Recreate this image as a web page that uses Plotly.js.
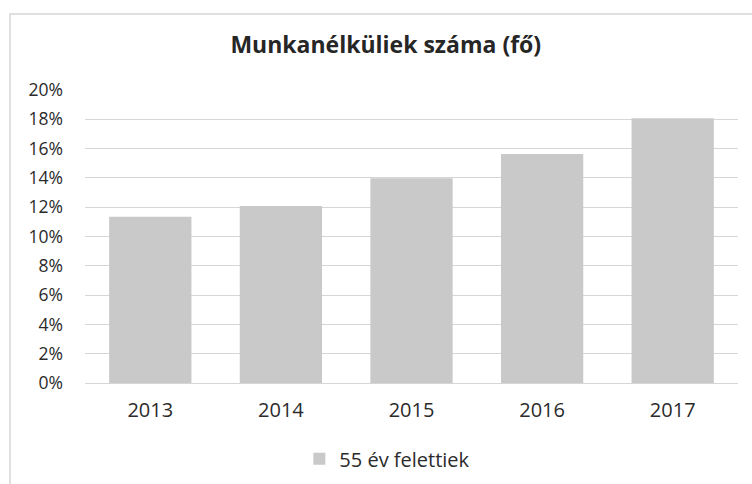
<!DOCTYPE html>
<html>
<head>
<meta charset="utf-8">
<script src="https://cdn.plot.ly/plotly-3.0.1.min.js"></script>
<style>
html,body{margin:0;padding:0;background:#fff;overflow:hidden;}
#frame{position:absolute;left:9px;top:13px;width:760px;height:480px;border:2px solid #e0e0e0;box-sizing:border-box;}
#chart{position:absolute;left:0;top:0;width:752px;height:484px;}
</style>
</head>
<body>
<div id="frame"></div>
<div id="chart"></div>
<script>
const years = ['2013', '2014', '2015', '2016', '2017'];
const values = [0.1135, 0.1208, 0.1397, 0.1563, 0.1807];
const seriesName = '55 év felettiek';
const tickVals = [0, 0.02, 0.04, 0.06, 0.08, 0.10, 0.12, 0.14, 0.16, 0.18, 0.20];

const font = '"Open Sans", sans-serif';

Plotly.newPlot('chart', [{
  type: 'bar',
  x: years,
  y: values,
  name: seriesName,
  marker: {color: '#c9c9c9'},
  showlegend: true
}], {
  width: 752, height: 484,
  margin: {l: 85, r: 14, t: 90, b: 101},
  paper_bgcolor: 'rgba(0,0,0,0)',
  plot_bgcolor: 'rgba(0,0,0,0)',
  bargap: 0.37,
  title: {text: '<b>Munkanélküliek száma (fő)</b>', x: 0.513, xanchor: 'center', y: 0.907, yanchor: 'middle',
          font: {family: font, size: 23, color: '#262626'}},
  xaxis: {type: 'category', showgrid: false, zeroline: false, showline: false, ticks: '',
          tickfont: {family: font, size: 20, color: '#2b2b2b'}, ticklabelstandoff: 13, automargin: false},
  yaxis: {range: [0, 0.20], tickvals: tickVals, tickformat: '.0%', showgrid: true, gridcolor: '#d6d6d6', gridwidth: 1,
          zeroline: true, zerolinecolor: '#d6d6d6', showline: false, ticks: '', automargin: false,
          tickfont: {family: font, size: 17.5, color: '#2b2b2b'}, ticklabelstandoff: 21},
  legend: {orientation: 'h', x: 0.463, xanchor: 'center', yref: 'container', y: 0.052, yanchor: 'middle',
           font: {family: font, size: 20, color: '#2b2b2b'}, itemwidth: 30}
}, {displayModeBar: false, staticPlot: true});
</script>
</body>
</html>
